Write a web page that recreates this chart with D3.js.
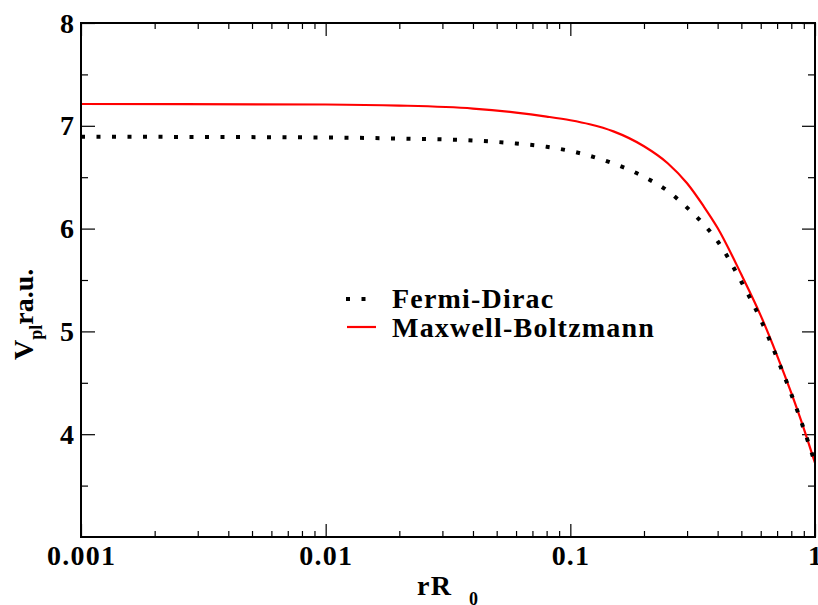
<!DOCTYPE html>
<html>
<head>
<meta charset="utf-8">
<script src="https://cdn.jsdelivr.net/npm/d3@7"></script>
<style>
  body { margin: 0; background: #fff; }
  svg text { font-family: "Liberation Serif", "Times New Roman", serif; font-weight: bold; }
</style>
</head>
<body>
<div id="graph"></div>
<script>
// r / R0 sample points (log axis)
const radius = [0.001, 0.01, 0.02, 0.04, 0.06, 0.08, 0.1, 0.12, 0.15, 0.2, 0.25, 0.3, 0.35, 0.4, 0.5, 0.6, 0.7, 0.8, 0.9, 1.0];
// Fermi-Dirac potential
const fermiDirac = [6.894, 6.886, 6.876, 6.857, 6.828, 6.796, 6.755, 6.708, 6.633, 6.504, 6.366, 6.204, 6.045, 5.877, 5.483, 5.114, 4.74, 4.389, 4.05, 3.72];
// Maxwell-Boltzmann potential
const maxwellBoltzmann = [7.212, 7.207, 7.197, 7.168, 7.129, 7.090, 7.054, 7.015, 6.946, 6.801, 6.636, 6.441, 6.220, 6.006, 5.553, 5.154, 4.765, 4.401, 4.055, 3.72];

const xTicks = [0.001, 0.01, 0.1, 1];
const xTickLabels = ["0.001", "0.01", "0.1", "1"];
const yTicks = [4, 5, 6, 7, 8];
const yMinorTicks = [3.5, 4.5, 5.5, 6.5, 7.5];

function main() {
    const container = document.getElementById("graph");
    const svg = d3.create("svg").attr("width", 818).attr("height", 605);
    const margin = { top: 23, right: 3, bottom: 68, left: 81 };
    const width = +svg.attr("width") - margin.left - margin.right;
    const height = +svg.attr("height") - margin.top - margin.bottom;

    const x = d3.scaleLog().domain([0.001, 1]).range([0, width]);
    const y = d3.scaleLinear().domain([3, 8]).range([height, 0]);

    const g = svg.append("g").attr("transform", `translate(${margin.left},${margin.top})`);

    g.append("clipPath").attr("id", "clip")
        .append("rect").attr("width", width).attr("height", height);

    // minor x ticks: 2..9 in every decade
    const xMinor = x.ticks().filter(v => !xTicks.some(t => Math.abs(t - v) < 1e-12));

    // ticks on all four sides, pointing inward
    const tickGroups = [
        [d3.axisBottom(x).tickValues(xTicks).tickSize(-13), `translate(0,${height})`],
        [d3.axisBottom(x).tickValues(xMinor).tickSize(-6), `translate(0,${height})`],
        [d3.axisTop(x).tickValues(xTicks).tickSize(-13), null],
        [d3.axisTop(x).tickValues(xMinor).tickSize(-6), null],
        [d3.axisLeft(y).tickValues(yTicks).tickSize(-14), null],
        [d3.axisLeft(y).tickValues(yMinorTicks).tickSize(-7), null],
        [d3.axisRight(y).tickValues(yTicks).tickSize(-13), `translate(${width},0)`],
        [d3.axisRight(y).tickValues(yMinorTicks).tickSize(-7), `translate(${width},0)`]
    ];
    tickGroups.forEach(([axis, tr]) => {
        const a = g.append("g").call(axis.tickFormat(""));
        if (tr) a.attr("transform", tr);
        a.select(".domain").remove();
        a.selectAll("line").attr("stroke", "#000").attr("stroke-width", 1.2);
    });

    // tick labels
    g.selectAll(".xlab").data(xTicks).join("text")
        .attr("x", d => x(d) + 0.6)
        .attr("y", height + 28)
        .attr("text-anchor", "middle")
        .attr("font-size", 28)
        .attr("letter-spacing", 1.2)
        .text((d, i) => xTickLabels[i]);

    g.selectAll(".ylab").data(yTicks).join("text")
        .attr("x", -7)
        .attr("y", d => y(d) + 9.5)
        .attr("text-anchor", "end")
        .attr("font-size", 28)
        .text(d => d);

    // curves
    const line = (vals) => d3.line()
        .x((d, i) => x(radius[i]))
        .y(d => y(d))
        .curve(d3.curveMonotoneX)(vals);

    const curves = g.append("g").attr("clip-path", "url(#clip)");
    curves.append("path")
        .attr("d", line(maxwellBoltzmann))
        .attr("fill", "none")
        .attr("stroke", "#ff0000")
        .attr("stroke-width", 2.2);

    curves.append("path")
        .attr("d", line(fermiDirac))
        .attr("fill", "none")
        .attr("stroke", "#000")
        .attr("stroke-width", 4)
        .attr("stroke-dasharray", "4 11.5");

    // frame
    g.append("rect")
        .attr("width", width).attr("height", height)
        .attr("fill", "none").attr("stroke", "#000").attr("stroke-width", 2);

    // legend
    const legend = svg.append("g");
    legend.append("line")
        .attr("x1", 346).attr("x2", 366).attr("y1", 299).attr("y2", 299)
        .attr("stroke", "#000").attr("stroke-width", 4)
        .attr("stroke-dasharray", "4 11.5");
    legend.append("text").attr("x", 392).attr("y", 308)
        .attr("font-size", 28).attr("letter-spacing", 1.2).text("Fermi-Dirac");
    legend.append("line")
        .attr("x1", 347).attr("x2", 376).attr("y1", 327).attr("y2", 327)
        .attr("stroke", "#ff0000").attr("stroke-width", 2.2);
    legend.append("text").attr("x", 392).attr("y", 337)
        .attr("font-size", 28).attr("letter-spacing", 1.2).text("Maxwell-Boltzmann");

    // axis titles
    const xt = svg.append("text").attr("x", 417).attr("y", 595).attr("font-size", 28).attr("letter-spacing", 1.2);
    xt.append("tspan").text("rR");
    xt.append("tspan").attr("dx", 17).attr("dy", 10).attr("font-size", 18).text("0");

    const yt = svg.append("text")
        .attr("transform", "translate(33,360) rotate(-90)")
        .attr("font-size", 28);
    yt.append("tspan").text("V");
    yt.append("tspan").attr("dy", 9).attr("font-size", 18).text("pl");
    yt.append("tspan").attr("dy", -9).text("ra.u.");

    container.appendChild(svg.node());
}

main();
</script>
</body>
</html>
